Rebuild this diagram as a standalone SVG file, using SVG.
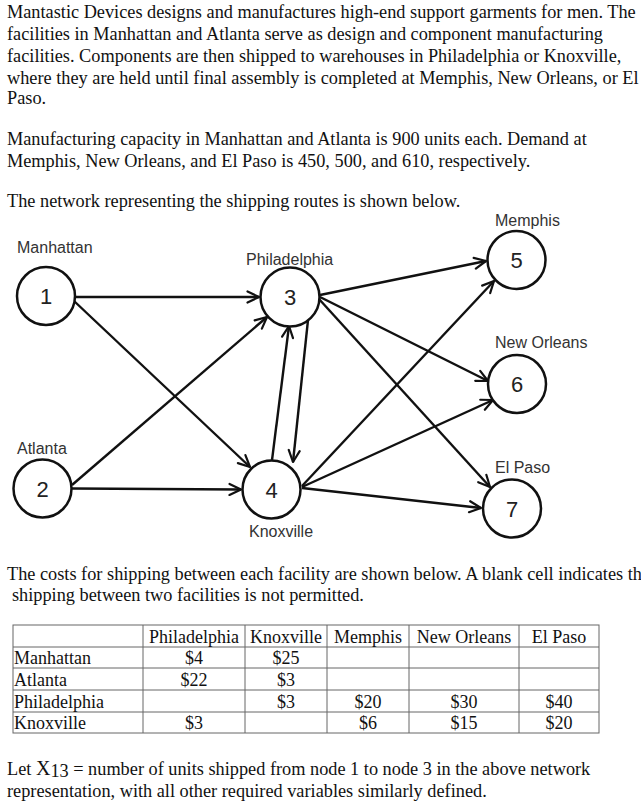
<svg xmlns="http://www.w3.org/2000/svg" width="641" height="802" viewBox="0 0 641 802">
<style>
.p{font-family:"Liberation Serif","Times New Roman",serif;font-size:18.3px;fill:#111}
.t{font-family:"Liberation Serif","Times New Roman",serif;font-size:18px;fill:#111}
.lb{font-family:"Liberation Sans",Arial,sans-serif;font-size:16px;fill:#333}
.num{font-family:"Liberation Sans",Arial,sans-serif;font-size:22px;fill:#222;text-anchor:middle}
.nd{fill:#fff;stroke:#111;stroke-width:2.5}
.e{stroke:#111;stroke-width:2.4;fill:none}
.g{stroke:#666;stroke-width:1;fill:none}
.c{text-anchor:middle}
</style>
<defs>
<marker id="ar" viewBox="0 0 14 14" refX="13" refY="7" markerWidth="14" markerHeight="14" markerUnits="userSpaceOnUse" orient="auto">
<path d="M1.5,1.5 L13,7 L1.5,12.5" fill="none" stroke="#111" stroke-width="2.2" stroke-linejoin="round" stroke-linecap="round"/>
</marker>
</defs>
<rect width="641" height="802" fill="#fff"/>
<g id="intro">
<text class="p" x="7" y="18">Mantastic Devices designs and manufactures high-end support garments for men. The</text>
<text class="p" x="7" y="40">facilities in Manhattan and Atlanta serve as design and component manufacturing</text>
<text class="p" x="7" y="62">facilities. Components are then shipped to warehouses in Philadelphia or Knoxville,</text>
<text class="p" x="7" y="84">where they are held until final assembly is completed at Memphis, New Orleans, or El</text>
<text class="p" x="7" y="104">Paso.</text>
<text class="p" x="7" y="145">Manufacturing capacity in Manhattan and Atlanta is 900 units each. Demand at</text>
<text class="p" x="7" y="167">Memphis, New Orleans, and El Paso is 450, 500, and 610, respectively.</text>
<text class="p" x="7" y="207">The network representing the shipping routes is shown below.</text>
</g>
<g id="connectors">
<line class="e" x1="76" y1="297" x2="259" y2="297" marker-end="url(#ar)"/>
<line class="e" x1="74" y1="301" x2="250" y2="467" marker-end="url(#ar)"/>
<line class="e" x1="72" y1="485" x2="267" y2="317" marker-end="url(#ar)"/>
<line class="e" x1="72" y1="488.5" x2="241" y2="489.5" marker-end="url(#ar)"/>
<line class="e" x1="272" y1="460" x2="289" y2="326" marker-end="url(#ar)"/>
<line class="e" x1="308" y1="320" x2="293" y2="462" marker-end="url(#ar)"/>
<line class="e" x1="320" y1="295" x2="486" y2="261" marker-end="url(#ar)"/>
<line class="e" x1="320" y1="297" x2="488" y2="381" marker-end="url(#ar)"/>
<line class="e" x1="319" y1="299" x2="490" y2="487" marker-end="url(#ar)"/>
<line class="e" x1="302" y1="486" x2="494" y2="281" marker-end="url(#ar)"/>
<line class="e" x1="302" y1="487" x2="493" y2="400" marker-end="url(#ar)"/>
<line class="e" x1="302" y1="488" x2="481" y2="508" marker-end="url(#ar)"/>
</g>
<g id="n1"><circle class="nd" cx="46" cy="296" r="29"/><text class="num" x="46" y="304">1</text><text class="lb" x="17" y="253">Manhattan</text></g>
<g id="n2"><circle class="nd" cx="42.5" cy="488.5" r="29"/><text class="num" x="42.5" y="496.5">2</text><text class="lb" x="17" y="454">Atlanta</text></g>
<g id="n3"><circle class="nd" cx="290" cy="297" r="29.5"/><text class="num" x="290" y="305">3</text><text class="lb" x="246" y="265">Philadelphia</text></g>
<g id="n4"><circle class="nd" cx="271.5" cy="489.5" r="29"/><text class="num" x="271.5" y="497.5">4</text><text class="lb" x="249" y="537">Knoxville</text></g>
<g id="n5"><circle class="nd" cx="516.5" cy="260" r="29"/><text class="num" x="516.5" y="268">5</text><text class="lb" x="495" y="226">Memphis</text></g>
<g id="n6"><circle class="nd" cx="517" cy="384" r="29"/><text class="num" x="517" y="392">6</text><text class="lb" x="495" y="348">New Orleans</text></g>
<g id="n7"><circle class="nd" cx="512" cy="508.5" r="29"/><text class="num" x="512" y="516.5">7</text><text class="lb" x="495" y="473">El Paso</text></g>
<g id="costs">
<text class="p" x="7" y="580">The costs for shipping between each facility are shown below. A blank cell indicates th</text>
<text class="p" x="12" y="601">shipping between two facilities is not permitted.</text>
<g id="table">
<rect class="g" x="13" y="625" width="586" height="108"/>
<path class="g" d="M13,647H599M13,668H599M13,690H599M13,712H599M143,625V733M245,625V733M327,625V733M409,625V733M519,625V733"/>
<text class="t c" x="194" y="643">Philadelphia</text>
<text class="t c" x="286" y="643">Knoxville</text>
<text class="t c" x="368" y="643">Memphis</text>
<text class="t c" x="464" y="643">New Orleans</text>
<text class="t c" x="559" y="643">El Paso</text>
<text class="t" x="14" y="664">Manhattan</text>
<text class="t" x="14" y="686">Atlanta</text>
<text class="t" x="14" y="708">Philadelphia</text>
<text class="t" x="14" y="729">Knoxville</text>
<text class="t c" x="194" y="664">$4</text>
<text class="t c" x="286" y="664">$25</text>
<text class="t c" x="194" y="686">$22</text>
<text class="t c" x="286" y="686">$3</text>
<text class="t c" x="286" y="708">$3</text>
<text class="t c" x="368" y="708">$20</text>
<text class="t c" x="464" y="708">$30</text>
<text class="t c" x="559" y="708">$40</text>
<text class="t c" x="194" y="729">$3</text>
<text class="t c" x="368" y="729">$6</text>
<text class="t c" x="464" y="729">$15</text>
<text class="t c" x="559" y="729">$20</text>
</g>
<text class="p" x="7" y="775">Let <tspan font-size="20">X</tspan><tspan dy="2">13</tspan><tspan dy="-2"> = number of units shipped from node 1 to node 3 in the above network</tspan></text>
<text class="p" x="7" y="797">representation, with all other required variables similarly defined.</text>
</g>
</svg>
